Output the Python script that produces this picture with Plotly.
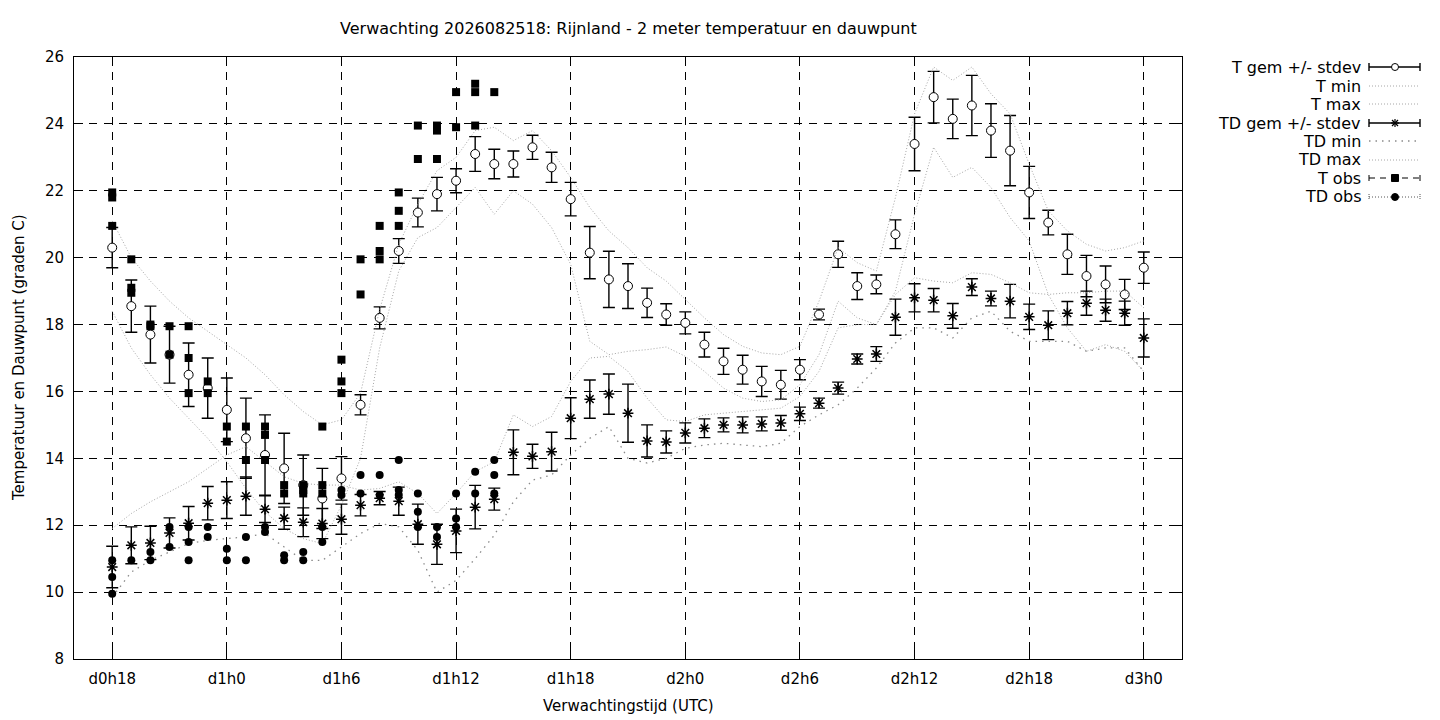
import plotly.graph_objects as go

# forecast hours (hours after d0h0)
hours = [18, 19, 20, 21, 22, 23, 24, 25, 26, 27,
         28, 29, 30, 31, 32, 33, 34, 35, 36, 37,
         38, 39, 40, 41, 42, 43, 44, 45, 46, 47,
         48, 49, 50, 51, 52, 53, 54, 55, 56, 57,
         58, 59, 60, 61, 62, 63, 64, 65, 66, 67,
         68, 69, 70, 71, 72]

t_gem = [20.3, 18.55, 17.7, 17.1, 16.5, 16.1, 15.45, 14.6, 14.1, 13.7,
         13.2, 12.8, 13.4, 15.6, 18.2, 20.2, 21.35, 21.9, 22.3, 23.1,
         22.8, 22.8, 23.3, 22.7, 21.75, 20.15, 19.35, 19.15, 18.65, 18.3,
         18.05, 17.4, 16.9, 16.65, 16.3, 16.2, 16.65, 18.3, 20.1, 19.15,
         19.2, 20.7, 23.4, 24.8, 24.15, 24.55, 23.8, 23.2, 21.95, 21.05,
         20.1, 19.45, 19.2, 18.9, 19.7]

t_sd = [0.6, 0.78, 0.85, 0.85, 0.95, 0.9, 0.95, 1.2, 1.2, 1.05,
        0.9, 0.9, 0.65, 0.3, 0.33, 0.37, 0.43, 0.5, 0.36, 0.52,
        0.44, 0.39, 0.36, 0.45, 0.5, 0.78, 0.84, 0.67, 0.44, 0.32,
        0.33, 0.37, 0.39, 0.43, 0.45, 0.43, 0.3, 0.16, 0.39, 0.4,
        0.28, 0.43, 0.8, 0.77, 0.59, 0.9, 0.8, 1.05, 0.78, 0.37,
        0.6, 0.62, 0.55, 0.45, 0.47]

t_min = [18.4, 17.3, 16.5, 15.8, 15.2, 14.6, 13.9, 13.1, 12.4, 11.9,
         11.6, 11.45, 12.6, 14.0, 17.3, 19.6, 20.6, 20.9, 21.5, 22.1,
         21.3, 22.0, 21.6, 20.9, 19.8, 17.5, 17.1, 17.2, 17.25, 17.33,
         17.05, 16.6, 16.1, 15.8, 15.7, 15.75, 16.2, 17.1, 18.7, 18.2,
         18.0, 19.0, 21.3, 23.3, 22.4, 22.7, 22.1, 21.2, 20.5, 18.9,
         17.9, 17.2, 17.4, 17.2, 16.6]

t_max = [21.1, 20.0, 19.3, 18.7, 18.2, 17.8, 17.4, 17.0, 16.5, 15.9,
         15.4, 15.0, 15.15, 15.95, 18.45, 20.4, 21.6, 22.6, 23.0, 23.8,
         23.9, 23.5, 23.8, 23.2, 22.4, 21.5, 20.8, 20.3, 19.7, 19.3,
         18.75, 18.2, 17.7, 17.35, 17.15, 17.1, 17.35, 18.7, 20.3, 19.85,
         19.6, 21.8, 24.3, 25.7, 25.3, 25.7, 24.9, 24.3, 22.8, 21.4,
         20.8, 20.4, 20.2, 20.3, 20.5]

td_gem = [10.75, 11.4, 11.47, 11.77, 12.06, 12.66, 12.75, 12.87, 12.48, 12.21,
          12.09, 12.05, 12.18, 12.6, 12.81, 12.72, 12.03, 11.43, 11.83, 12.54,
          12.78, 14.18, 14.06, 14.2, 15.2, 15.77, 15.92, 15.35, 14.52, 14.49,
          14.76, 14.9, 15.0, 15.0, 15.03, 15.06, 15.33, 15.65, 16.1, 16.97,
          17.12, 18.22, 18.8, 18.73, 18.26, 19.12, 18.78, 18.7, 18.23, 17.98,
          18.34, 18.64, 18.43, 18.34, 17.6]

td_sd = [0.62, 0.55, 0.5, 0.45, 0.5, 0.5, 0.55, 0.57, 0.4, 0.33,
         0.43, 0.45, 0.45, 0.32, 0.2, 0.42, 0.6, 0.6, 0.65, 0.65,
         0.33, 0.67, 0.36, 0.58, 0.61, 0.57, 0.6, 0.87, 0.48, 0.33,
         0.3, 0.28, 0.21, 0.24, 0.21, 0.22, 0.2, 0.15, 0.18, 0.15,
         0.22, 0.54, 0.42, 0.35, 0.37, 0.25, 0.22, 0.5, 0.38, 0.43,
         0.35, 0.36, 0.33, 0.36, 0.57]

td_min = [9.85, 10.6, 10.95, 11.2, 11.45, 11.55, 11.6, 11.65, 11.75, 11.35,
          10.95, 10.95, 11.35, 11.75, 12.05, 11.95, 11.25, 10.0, 10.35, 11.0,
          11.7, 12.7, 13.35, 13.5, 14.1, 14.6, 14.95, 14.0, 13.86, 14.0,
          14.3, 14.4, 14.45, 14.4, 14.35, 14.45, 14.95, 15.3, 15.6, 16.1,
          16.7, 17.45, 17.9, 17.9, 17.6, 18.2, 18.4, 17.8, 17.5, 17.5,
          17.5, 17.2, 17.3, 17.3, 16.6]

td_max = [11.9, 12.35, 12.7, 13.0, 13.3, 13.7, 14.1, 14.35, 13.9, 13.45,
          13.25, 13.2, 13.2, 13.05, 13.1, 13.3, 12.95, 12.35, 12.95, 13.6,
          13.9, 15.3, 14.95, 15.25, 16.3, 17.0, 17.05, 16.6, 15.8, 15.15,
          15.1, 15.3, 15.35, 15.4, 15.45, 15.5, 15.85, 16.6, 17.9, 18.0,
          18.0, 18.9, 19.4, 19.3, 19.25, 19.55, 19.5, 19.25, 18.95, 18.9,
          18.95, 18.95, 19.0, 19.0, 18.5]

# observations (several stations per hour)
t_obs_h = [18, 18, 18, 19, 19, 19, 20, 20, 21, 21, 22, 22, 22, 23, 23,
           24, 24, 25, 25, 26, 26, 26, 27, 27, 28, 28, 28, 29, 29, 29,
           30, 30, 30, 31, 31, 32, 32, 32, 33, 33, 33, 34, 34, 35, 35, 35,
           36, 36, 37, 37, 37, 38]
t_obs = [21.95, 21.8, 20.95, 19.95, 19.1, 18.95, 18.0, 17.95, 17.95, 17.1,
         17.95, 17.0, 15.95, 16.3, 15.95, 14.95, 14.5, 14.95, 13.95,
         14.95, 14.7, 13.95, 13.2, 12.95, 13.2, 13.05, 12.95, 14.95, 13.2, 12.95,
         16.95, 16.3, 15.95, 19.95, 18.9, 20.95, 20.2, 19.95, 21.95, 21.4, 20.95,
         23.95, 22.95, 23.95, 23.8, 22.95, 24.95, 23.9, 25.2, 24.95, 23.95, 24.95]

td_obs_h = [18, 18, 18, 19, 20, 20, 21, 21, 22, 22, 22, 23, 23, 24, 24,
            25, 25, 26, 26, 27, 27, 28, 28, 29, 29, 30, 30, 31, 31, 32, 32,
            33, 33, 33, 34, 34, 34, 35, 35, 36, 36, 36, 37, 37, 38, 38, 38]
td_obs = [10.95, 10.45, 9.95, 10.95, 11.2, 10.95, 11.95, 11.35, 11.95, 11.5, 10.95,
          11.95, 11.65, 11.3, 10.95, 11.65, 10.95, 11.95, 11.8, 11.1, 10.95,
          11.2, 10.95, 11.95, 11.5, 13.05, 12.9, 13.5, 12.95, 13.5, 12.9,
          13.95, 13.05, 12.9, 12.95, 12.4, 11.95, 11.95, 11.65, 12.95, 12.2, 11.95,
          13.6, 12.95, 13.95, 13.5, 12.95]

tick_hours = [18, 24, 30, 36, 42, 48, 54, 60, 66, 72]
tick_text = ["d0h18", "d1h0", "d1h6", "d1h12", "d1h18", "d2h0", "d2h6",
             "d2h12", "d2h18", "d3h0"]

legend_names = ["T gem +/- stdev", "T min", "T max", "TD gem +/- stdev",
                "TD min", "TD max", "T obs", "TD obs"]

FONT = "DejaVu Sans"
GRAY = "#a6a6a6"
GRAY2 = "#8a8a8a"

fig = go.Figure()

fig.add_trace(go.Scatter(
    x=hours, y=t_gem, mode="markers",
    error_y=dict(type="data", array=t_sd, color="black", thickness=1.4, width=6),
    marker=dict(symbol="circle", size=9, color="white",
                line=dict(color="black", width=1))))
fig.add_trace(go.Scatter(x=hours, y=t_min, mode="lines",
                         line=dict(color=GRAY, width=1, dash="1px,2px")))
fig.add_trace(go.Scatter(x=hours, y=t_max, mode="lines",
                         line=dict(color=GRAY, width=1, dash="1px,2px")))
fig.add_trace(go.Scatter(
    x=hours, y=td_gem, mode="markers",
    error_y=dict(type="data", array=td_sd, color="black", thickness=1.4, width=6),
    marker=dict(symbol="asterisk-open", size=9, color="black",
                line=dict(color="black", width=1.5))))
fig.add_trace(go.Scatter(x=hours, y=td_min, mode="lines",
                         line=dict(color=GRAY2, width=1.3, dash="1.5px,5px")))
fig.add_trace(go.Scatter(x=hours, y=td_max, mode="lines",
                         line=dict(color=GRAY, width=1, dash="1px,2px")))
fig.add_trace(go.Scatter(x=t_obs_h, y=t_obs, mode="markers",
                         marker=dict(symbol="square", size=8, color="black")))
fig.add_trace(go.Scatter(x=td_obs_h, y=td_obs, mode="markers",
                         marker=dict(symbol="circle", size=8, color="black")))

axis_style = dict(
    showgrid=True, gridcolor="black", gridwidth=1, griddash="8px,7px",
    ticks="inside", ticklen=9, tickcolor="black", tickwidth=1,
    showline=True, linecolor="black", linewidth=1, mirror="ticks",
    zeroline=False, tickfont=dict(size=15, color="black", family=FONT),
    ticklabelstandoff=6,
)

# the page adds an 8px body margin; positions below are screenshot pixels
OFF = 8
W, H = 1424, 712
L, R, T, B = 74 - OFF, 1182 - OFF, 57 - OFF, 659 - OFF


def px(x, y):
    return (x - OFF - L) / (R - L), (B - (y - OFF)) / (B - T)


annotations = [
    dict(text="Verwachting 2026082518: Rijnland - 2 meter temperatuur en dauwpunt",
         x=px(628, 0)[0], y=px(0, 29)[1], xref="paper", yref="paper", showarrow=False,
         xanchor="center", yanchor="middle", font=dict(size=16)),
    dict(text="Verwachtingstijd (UTC)", x=px(628, 0)[0], y=px(0, 706)[1],
         xref="paper", yref="paper", showarrow=False,
         xanchor="center", yanchor="middle", font=dict(size=15)),
    dict(text="Temperatuur en Dauwpunt (graden C)", x=px(19, 0)[0], y=px(0, 358)[1],
         xref="paper", yref="paper", showarrow=False, textangle=-90,
         xanchor="center", yanchor="middle", font=dict(size=15)),
]

# legend, gnuplot style (text right aligned, sample to the right)
rows = [67, 86, 104, 123, 141, 160, 178, 197]
sx0, sx1, sxm = 1369, 1420, 1395
shapes = []


def seg(x0, y0, x1, y1, color="black", width=1, dash="solid"):
    a = px(x0, y0)
    b = px(x1, y1)
    shapes.append(dict(type="line", xref="paper", yref="paper",
                       x0=a[0], y0=a[1], x1=b[0], y1=b[1],
                       line=dict(color=color, width=width, dash=dash)))


def blob(kind, x, y, r, fill, outline="black"):
    a = px(x - r, y + r)
    b = px(x + r, y - r)
    shapes.append(dict(type=kind, xref="paper", yref="paper",
                       x0=a[0], y0=a[1], x1=b[0], y1=b[1], fillcolor=fill,
                       line=dict(color=outline, width=1)))


for name, ry in zip(legend_names, rows):
    annotations.append(dict(text=name, x=px(1363, 0)[0], y=px(0, ry)[1],
                            xref="paper", yref="paper", showarrow=False,
                            xanchor="right", yanchor="middle",
                            font=dict(size=16)))

for i in (0, 3):
    ry = rows[i]
    seg(sx0, ry, sx1, ry, width=1.4)
    seg(sx0, ry - 4, sx0, ry + 4, width=1.4)
    seg(sx1, ry - 4, sx1, ry + 4, width=1.4)
blob("circle", sxm, rows[0], 3.5, "white")
for dx, dy in ((4, 0), (0, 4), (3, 3), (3, -3)):
    seg(sxm - dx, rows[3] - dy, sxm + dx, rows[3] + dy, width=1.2)
for i in (1, 2, 5):
    seg(sx0, rows[i], sx1, rows[i], color=GRAY, dash="1px,2px")
seg(sx0, rows[4], sx1, rows[4], color=GRAY2, width=1.3, dash="1.5px,5px")
ry = rows[6]
seg(sx0, ry, sx1, ry, dash="6px,5px")
seg(sx0, ry - 3, sx0, ry + 3)
seg(sx1, ry - 3, sx1, ry + 3)
blob("rect", sxm, ry, 3.5, "black")
ry = rows[7]
seg(sx0, ry, sx1, ry, color="#555555", dash="1px,2px")
seg(sx0, ry - 3, sx0, ry + 3, color="#555555", dash="1px,1px")
seg(sx1, ry - 3, sx1, ry + 3, color="#555555", dash="1px,1px")
blob("circle", sxm, ry, 3.5, "black")

fig.update_layout(
    width=W, height=H,
    margin=dict(l=L, r=W - R, t=T, b=H - B),
    plot_bgcolor="white", paper_bgcolor="white",
    font=dict(family=FONT, size=14, color="black"),
    showlegend=False,
    xaxis=dict(range=[16, 74], tickvals=tick_hours, ticktext=tick_text,
               **axis_style),
    yaxis=dict(range=[8, 26], tick0=8, dtick=2, **axis_style),
    annotations=annotations,
    shapes=shapes,
)

fig.write_html("out.html")
